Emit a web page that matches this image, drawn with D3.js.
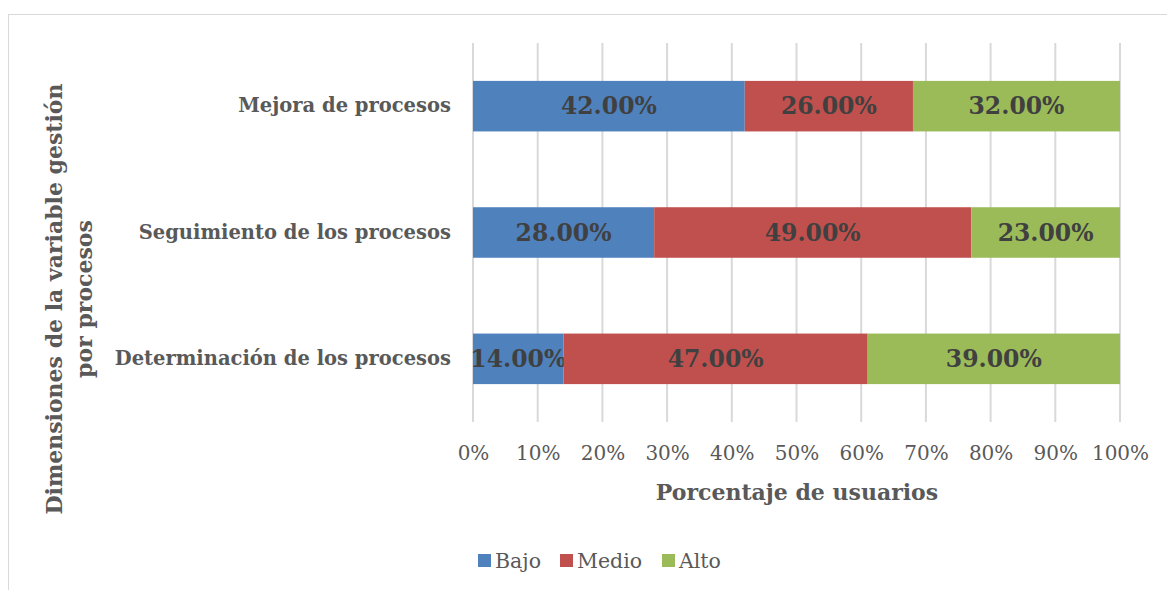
<!DOCTYPE html>
<html>
<head>
<meta charset="utf-8">
<script src="https://cdn.jsdelivr.net/npm/d3@7"></script>
<style>
  body { margin: 0; background: #fff; }
  svg text { font-family: "DejaVu Serif", serif; }
</style>
</head>
<body>
<script>
const categories = ['Mejora de procesos', 'Seguimiento de los procesos', 'Determinación de los procesos'];
const seriesNames = ['Bajo', 'Medio', 'Alto'];
const bajo = [42, 28, 14];
const medio = [26, 49, 47];
const alto = [32, 23, 39];
const ticks = [0, 10, 20, 30, 40, 50, 60, 70, 80, 90, 100];
const colors = ['#4f81bd', '#c0504d', '#9bbb59'];

const w = 1167, h = 590;
const svg = d3.select('body').append('svg').attr('width', w).attr('height', h);

// chart border
svg.append('rect').attr('x', 8.5).attr('y', 14.5).attr('width', 1170).attr('height', 600)
   .attr('fill', 'none').attr('stroke', '#d9d9d9');

const xScale = d3.scaleLinear().domain([0, 100]).range([473, 1120]);
const yScale = d3.scaleBand().domain(categories).range([43, 422]).paddingInner(0.6).paddingOuter(0.3);

// gridlines
svg.append('g').selectAll('line').data(ticks).enter().append('line')
   .attr('x1', d => xScale(d)).attr('x2', d => xScale(d))
   .attr('y1', 43).attr('y2', 422)
   .attr('stroke', '#d9d9d9').attr('stroke-width', 2);

const rows = categories.map((c, i) => ({ cat: c, vals: [bajo[i], medio[i], alto[i]] }));
rows.forEach(r => {
  let acc = 0;
  r.vals.forEach((v, j) => {
    const x0 = xScale(acc), x1 = xScale(acc + v);
    svg.append('rect').attr('x', x0).attr('y', yScale(r.cat)).attr('width', x1 - x0)
       .attr('height', yScale.bandwidth()).attr('fill', colors[j]);
    svg.append('text').text(v.toFixed(2) + '%')
       .attr('x', (x0 + x1) / 2).attr('y', yScale(r.cat) + yScale.bandwidth() / 2 + 8)
       .attr('text-anchor', 'middle').attr('font-size', 23.5).attr('font-weight', 'bold')
       .attr('fill', '#404040');
    acc += v;
  });
});

// y axis labels
const yAxis = d3.axisLeft(yScale).tickSize(0).tickPadding(22);
const yg = svg.append('g').attr('transform', 'translate(473,0)').call(yAxis);
yg.select('.domain').remove();
yg.selectAll('text').attr('font-family', '"DejaVu Serif", serif').attr('font-size', 19.5)
  .attr('font-weight', 'bold').attr('fill', '#595959');

// x axis
const xAxis = d3.axisBottom(xScale).tickValues(ticks).tickSize(0).tickPadding(24).tickFormat(d => d + '%');
const xg = svg.append('g').attr('transform', 'translate(0,422)').call(xAxis);
xg.select('.domain').remove();
xg.selectAll('text').attr('font-family', '"DejaVu Serif", serif').attr('font-size', 20)
  .attr('fill', '#595959');

svg.append('text').text('Porcentaje de usuarios').attr('x', 797).attr('y', 500)
   .attr('text-anchor', 'middle').attr('font-size', 22).attr('font-weight', 'bold').attr('fill', '#595959');

const yt = svg.append('text').attr('transform', 'translate(0,299) rotate(-90)')
   .attr('text-anchor', 'middle').attr('font-size', 22).attr('font-weight', 'bold').attr('fill', '#595959');
yt.append('tspan').attr('x', 0).attr('y', 62).text('Dimensiones de la variable gestión');
yt.append('tspan').attr('x', 0).attr('y', 92).text('por procesos');

// legend
const lg = svg.append('g');
const legendX = [478, 560, 662];
seriesNames.forEach((s, i) => {
  lg.append('rect').attr('x', legendX[i]).attr('y', 554).attr('width', 13).attr('height', 13).attr('fill', colors[i]);
  lg.append('text').text(s).attr('x', legendX[i] + 17).attr('y', 568)
    .attr('font-size', 20.5).attr('fill', '#595959');
});
</script>
</body>
</html>
